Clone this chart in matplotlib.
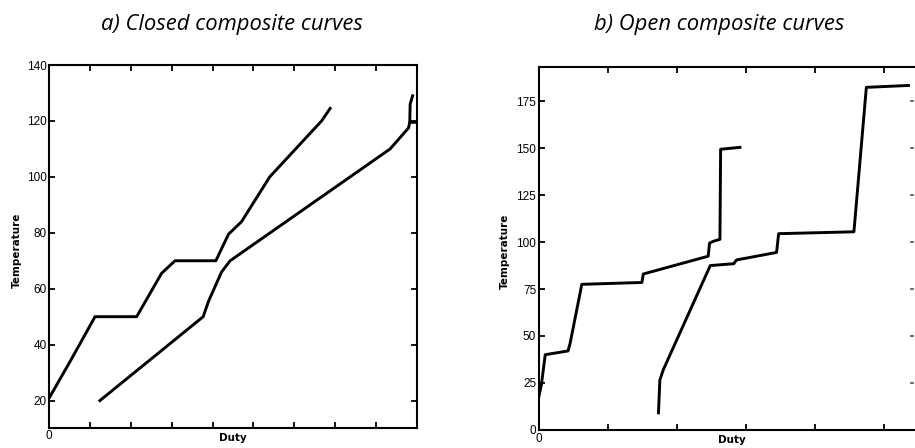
import matplotlib
matplotlib.use("Agg")
import matplotlib.pyplot as plt

# Panel a) closed composite curves (duty in tick units, temperature)
closed_hot_duty = [0.0, 0.51, 1.12, 2.14, 2.75, 3.08, 4.08, 4.39, 4.71, 5.40, 6.67, 6.88]
closed_hot_temp = [21.0, 34.0, 50.0, 50.0, 65.5, 70.0, 70.0, 79.5, 84.0, 100.0, 120.0, 124.5]
closed_cold_duty = [1.24, 3.77, 3.90, 4.22, 4.43, 8.35, 8.80, 8.83, 9.0]
closed_cold_temp = [20.0, 50.0, 55.5, 66.0, 70.0, 110.0, 117.5, 119.5, 119.5]
closed_tail_duty = [8.83, 8.84, 8.90]
closed_tail_temp = [119.5, 126.0, 129.0]

# Panel b) open composite curves
open_hot_duty = [0.0, 0.035, 0.09, 0.42, 0.45, 0.62, 1.49, 1.51, 2.45, 2.47, 2.53, 2.62, 2.63, 2.91]
open_hot_temp = [18.0, 24.0, 40.0, 42.0, 46.0, 77.5, 78.5, 83.0, 92.5, 99.5, 100.5, 101.5, 149.5, 150.5]
open_cold_duty = [1.73, 1.75, 1.80, 2.48, 2.82, 2.86, 3.44, 3.47, 4.56, 4.74, 5.35]
open_cold_temp = [9.0, 26.5, 32.0, 87.5, 88.5, 90.5, 94.5, 104.5, 105.5, 182.5, 183.5]

closed_yticks = [20, 40, 60, 80, 100, 120, 140]
open_yticks = [0, 25, 50, 75, 100, 125, 150, 175]

W, H = 915, 448
fig = plt.figure(figsize=(W / 100, H / 100), dpi=100)
plt.rcParams["font.family"] = ["DejaVu Sans"]

LW = 2.1


def px_axes(x0, y0, x1, y1):
    return fig.add_axes([x0 / W, 1 - y1 / H, (x1 - x0) / W, (y1 - y0) / H])


def style(ax):
    for s in ax.spines.values():
        s.set_linewidth(1.5)
    ax.tick_params(direction="in", length=4.5, width=1.3, pad=2,
                   top=True, right=True, labelsize=8.5)
    for lab in ax.get_yticklabels() + ax.get_xticklabels():
        lab.set_family("Liberation Sans")


# a) closed
ax1 = px_axes(49.3, 65, 416.7, 427.7)
ax1.plot(closed_hot_duty, closed_hot_temp, color="black", lw=LW, solid_joinstyle="round")
ax1.plot(closed_cold_duty, closed_cold_temp, color="black", lw=LW, solid_joinstyle="round")
ax1.plot(closed_tail_duty, closed_tail_temp, color="black", lw=LW, solid_joinstyle="round")
ax1.set_xlim(0, 9)
ax1.set_ylim(10.3, 140)
ax1.set_xticks(range(10))
ax1.set_xticklabels(["0"] + [""] * 9)
ax1.set_yticks(closed_yticks)
style(ax1)

# b) open
ax2 = px_axes(539, 66.7, 914, 430.3)
ax2.plot(open_hot_duty, open_hot_temp, color="black", lw=LW, solid_joinstyle="round")
ax2.plot(open_cold_duty, open_cold_temp, color="black", lw=LW, solid_joinstyle="round")
ax2.set_xlim(0, 5.43)
ax2.set_ylim(-0.3, 193.5)
ax2.set_xticks(range(6))
ax2.set_xticklabels(["0"] + [""] * 5)
ax2.set_yticks(open_yticks)
ax2.spines["right"].set_visible(False)
style(ax2)
ax2.tick_params(axis="y", which="both", right=True, length=4.5)
ax2.yaxis.set_tick_params(which="major", color="black")
for t in ax2.yaxis.get_major_ticks():
    t.tick2line.set_markersize(3)
    t.tick2line.set_alpha(0.6)

# axis labels
lab = dict(fontsize=7.5, fontweight="bold", family="DejaVu Sans")
fig.text(17 / W, 1 - 250 / H, "Temperature", rotation=90, ha="center", va="center", **lab)
fig.text(233 / W, 1 - 438 / H, "Duty", ha="center", va="center", **lab)
fig.text(505 / W, 1 - 251 / H, "Temperature", rotation=90, ha="center", va="center", **lab)
fig.text(732 / W, 1 - 440 / H, "Duty", ha="center", va="center", **lab)

# panel titles
tt = dict(fontsize=15.8, style="italic", family="Open Sans", ha="center", va="baseline")
fig.text(232 / W, 1 - 30 / H, "a) Closed composite curves", **tt)
fig.text(719 / W, 1 - 30 / H, "b) Open composite curves", **tt)

fig.savefig("out.png", dpi=100, facecolor="white")
